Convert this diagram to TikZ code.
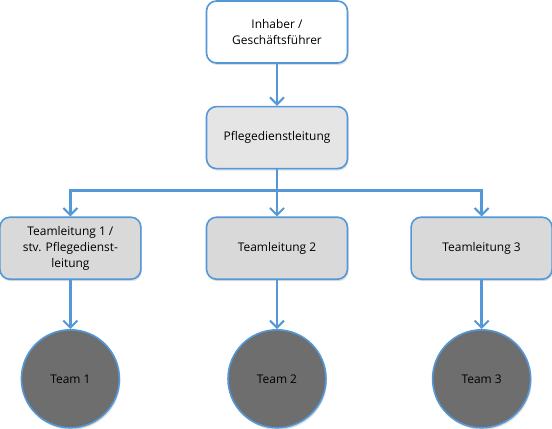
\documentclass[tikz,border=0pt]{standalone}
\usepackage{fontspec}
\setmainfont{Open Sans}
\usetikzlibrary{arrows.meta,positioning,shadows}
\definecolor{lineblue}{RGB}{84,152,216}
\tikzset{box/.style={draw=lineblue,line width=1.6bp,rounded corners=10bp,align=center,text=black,font=\fontsize{12}{16}\selectfont,minimum width=141bp,minimum height=62bp,inner sep=2pt,fill=black!15,drop shadow={opacity=0.25,shadow xshift=1bp,shadow yshift=-2bp}},
 team/.style={draw=lineblue,line width=1.6bp,circle,minimum size=98bp,inner sep=0pt,text=black,font=\fontsize{12}{16}\selectfont,fill=black!57,drop shadow={opacity=0.25,shadow xshift=1bp,shadow yshift=-2bp}},
 ar/.style={draw=lineblue,line width=2.6bp,-{Straight Barb[length=7bp,width=14bp,line width=2bp]}}}
\begin{document}
\begin{tikzpicture}
\useasboundingbox[fill=white](0,0) rectangle (552bp,-429bp);
\node[box,fill=white](inh) at (277bp,-32bp){Inhaber /\\Geschäftsführer};
\node[box,fill=black!10,below=42bp of inh](pdl){Pflegedienstleitung};
\node[box,below=47bp of pdl](tl2){Teamleitung 2};
\node[box,left=64bp of tl2](tl1){Teamleitung 1 /\\stv. Pflegedienst-\\leitung};
\node[box,right=62bp of tl2](tl3){Teamleitung 3};
\coordinate[below=21bp of pdl](br);
\foreach\x in {1,2,3}{\node[team,below=49bp of tl\x](t\x){Team \x};}
\draw[ar](inh)--(pdl);\draw[ar](pdl)--(tl2);
\draw[ar](br)-|(tl1);\draw[ar](br)-|(tl3);
\foreach\x in {1,2,3}{\draw[ar](tl\x)--(t\x);}
\end{tikzpicture}
\end{document}
